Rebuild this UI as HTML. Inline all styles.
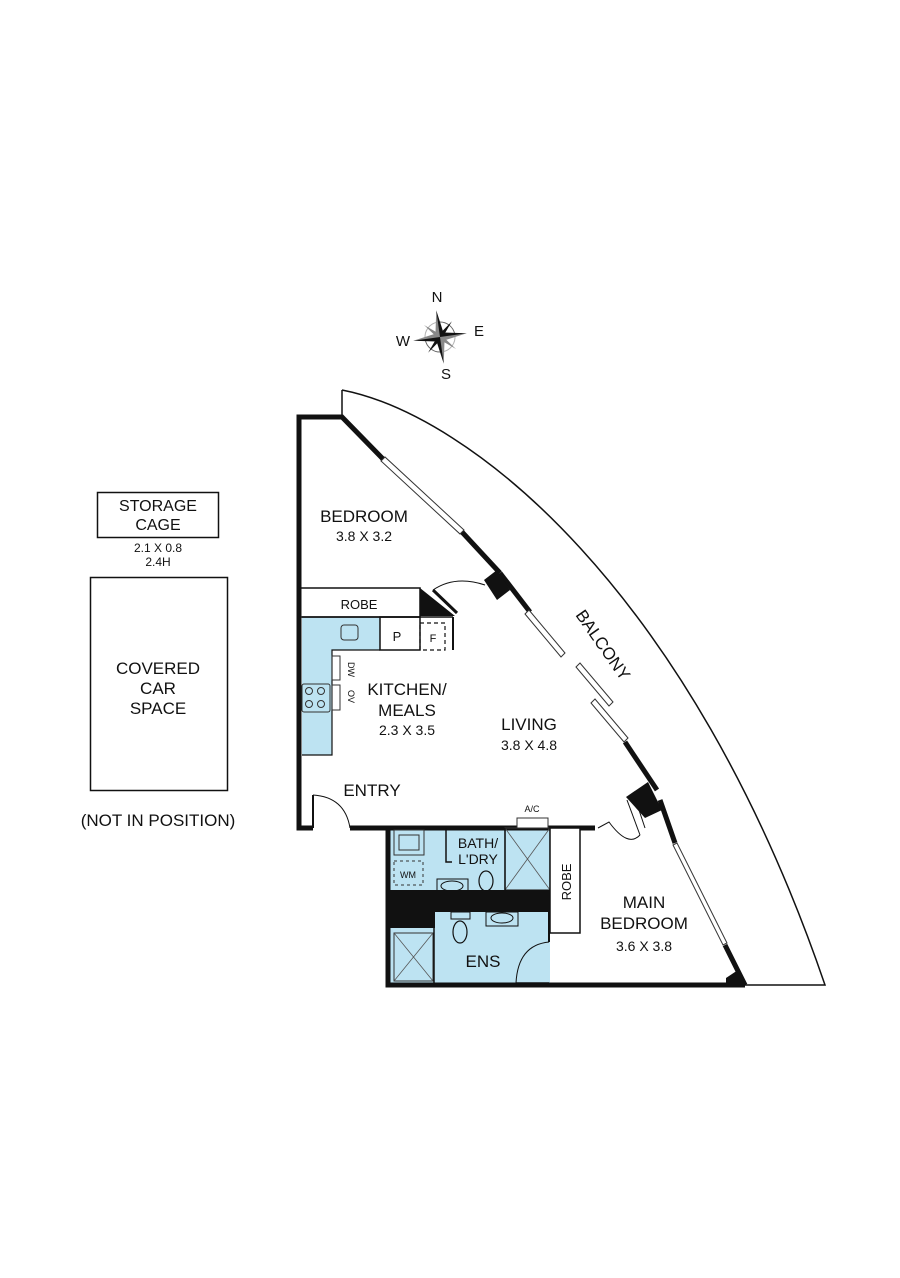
<!DOCTYPE html>
<html><head><meta charset="utf-8"><style>
html,body{margin:0;padding:0;background:#fff;}
svg text{font-family:"Liberation Sans",sans-serif;fill:#111;}
</style></head><body>
<svg width="900" height="1273" viewBox="0 0 900 1273" xmlns="http://www.w3.org/2000/svg">
<!-- compass -->
<g transform="translate(440,337) rotate(-8)">
<circle r="15" fill="none" stroke="#666" stroke-width="1"/>
<polygon points="0,-27 4,-4 27,0 4,4 0,27 -4,4 -27,0 -4,-4" fill="#111"/>
<polygon points="14,-14 3,0 14,14 0,3 -14,14 -3,0 -14,-14 0,-3" fill="#111"/>
<polygon points="0,-27 0,0 27,0 0,27 0,0 -27,0" fill="#fff" opacity="0.5"/>
</g>
<text x="437" y="302" font-size="15" text-anchor="middle">N</text>
<text x="479" y="336" font-size="15" text-anchor="middle">E</text>
<text x="403" y="346" font-size="15" text-anchor="middle">W</text>
<text x="446" y="379" font-size="15" text-anchor="middle">S</text>

<!-- storage / car -->
<rect x="97.5" y="492.5" width="121" height="45" fill="none" stroke="#111" stroke-width="1.5"/>
<text x="158" y="511" font-size="16" text-anchor="middle">STORAGE</text>
<text x="158" y="530" font-size="16" text-anchor="middle">CAGE</text>
<text x="158" y="552" font-size="12" text-anchor="middle">2.1 X 0.8</text>
<text x="158" y="566" font-size="12" text-anchor="middle">2.4H</text>
<rect x="90.5" y="577.5" width="137" height="213" fill="none" stroke="#111" stroke-width="1.5"/>
<text x="158" y="674" font-size="17" text-anchor="middle">COVERED</text>
<text x="158" y="694" font-size="17" text-anchor="middle">CAR</text>
<text x="158" y="714" font-size="17" text-anchor="middle">SPACE</text>
<text x="158" y="826" font-size="17" text-anchor="middle">(NOT IN POSITION)</text>

<!-- balcony -->
<path d="M342,390 C470,415 690,590 825,985 L745,985" fill="none" stroke="#111" stroke-width="1.5"/>
<line x1="342" y1="390" x2="342" y2="419" stroke="#111" stroke-width="1.5"/>
<text x="0" y="0" font-size="17" transform="translate(575,615) rotate(55)">BALCONY</text>

<!-- wet areas blue -->
<path d="M302,617 L380,617 L380,650 L332,650 L332,755 L302,755 Z" fill="#bde3f2"/>
<rect x="388" y="828" width="162" height="157" fill="#bde3f2"/>

<!-- outer walls -->
<g fill="none" stroke="#111" stroke-width="5">
<polyline points="313,828 299,828 299,417 342,417 383,459"/>
<line x1="462" y1="532" x2="500" y2="573"/>
<line x1="500" y1="573" x2="530" y2="612"/>
<line x1="625" y1="742" x2="657" y2="790"/>
<line x1="660" y1="800" x2="675" y2="843"/>
<line x1="725" y1="945" x2="745" y2="985"/>
<polyline points="350,828 388,828"/>
<polyline points="388,828 388,985 745,985"/>
<polyline points="388,828 550,828"/>
<polyline points="550,828 595,828"/>
</g>
<!-- windows -->
<g fill="#fff" stroke="#333" stroke-width="1">
<polygon points="381,461 385,457 464,530 460,534"/>
<polygon points="525,614 529,610 565,653 561,657"/>
<polygon points="576,667 580,663 613,702 609,706"/>
<polygon points="591,703 595,699 628,738 624,742"/>
<polygon points="673,845 677,843 727,943 723,945"/>
</g>
<!-- pillars -->
<polygon points="484,580 497,570 510,590 497,600" fill="#111"/>
<polygon points="626,797 648,782 662,810 645,818" fill="#111"/>
<polygon points="726,978 738,970 746,985 726,985" fill="#111"/>

<!-- robe top -->
<rect x="300" y="588" width="120" height="29" fill="none" stroke="#111" stroke-width="1.5"/>
<polygon points="420,588 455,616 420,616" fill="#111"/>
<text x="359" y="609" font-size="13" text-anchor="middle">ROBE</text>
<path d="M433,590 Q455,575 485,585" fill="none" stroke="#111" stroke-width="1"/>
<line x1="433" y1="590" x2="457" y2="613" stroke="#111" stroke-width="3"/>
<!-- P / F -->
<rect x="380" y="617" width="40" height="33" fill="none" stroke="#111" stroke-width="1.5"/>
<text x="397" y="641" font-size="13" text-anchor="middle">P</text>
<rect x="420" y="623" width="25" height="27" fill="none" stroke="#111" stroke-width="1.2" stroke-dasharray="4,3"/>
<text x="433" y="642" font-size="11" text-anchor="middle">F</text>
<line x1="453" y1="617" x2="453" y2="650" stroke="#111" stroke-width="2"/>
<line x1="302" y1="617" x2="453" y2="617" stroke="#111" stroke-width="1.5"/>
<path d="M380,650 L332,650 L332,755 L302,755" fill="none" stroke="#111" stroke-width="1.2"/>
<rect x="341" y="625" width="17" height="15" rx="3" fill="none" stroke="#333" stroke-width="1"/>
<rect x="332" y="656" width="8" height="24" fill="none" stroke="#333" stroke-width="1"/>
<rect x="332" y="685" width="8" height="25" fill="none" stroke="#333" stroke-width="1"/>
<text font-size="9" transform="translate(348,662) rotate(90)">DW</text>
<text font-size="9" transform="translate(348,690) rotate(90)">OV</text>
<rect x="302" y="684" width="28" height="28" rx="2" fill="none" stroke="#333" stroke-width="1"/>
<g fill="none" stroke="#333" stroke-width="1"><circle cx="309" cy="691" r="3.5"/><circle cx="321" cy="691" r="3.5"/><circle cx="309" cy="704" r="3.5"/><circle cx="321" cy="704" r="3.5"/></g>

<!-- labels -->
<text x="364" y="522" font-size="17" text-anchor="middle">BEDROOM</text>
<text x="364" y="541" font-size="14" text-anchor="middle">3.8 X 3.2</text>
<text x="407" y="695" font-size="17" text-anchor="middle">KITCHEN/</text>
<text x="407" y="716" font-size="17" text-anchor="middle">MEALS</text>
<text x="407" y="735" font-size="14" text-anchor="middle">2.3 X 3.5</text>
<text x="529" y="730" font-size="17" text-anchor="middle">LIVING</text>
<text x="529" y="750" font-size="14" text-anchor="middle">3.8 X 4.8</text>
<text x="372" y="796" font-size="17" text-anchor="middle">ENTRY</text>

<!-- entry door -->
<path d="M313,795 Q345,797 350,828" fill="none" stroke="#111" stroke-width="1"/>
<line x1="313" y1="795" x2="313" y2="828" stroke="#111" stroke-width="2"/>

<!-- bath block -->
<rect x="394" y="830" width="30" height="25" fill="none" stroke="#333" stroke-width="1"/>
<rect x="399" y="835" width="20" height="15" fill="none" stroke="#333" stroke-width="1"/>
<rect x="394" y="861" width="29" height="24" fill="none" stroke="#333" stroke-width="1" stroke-dasharray="3,3"/>
<text x="408" y="878" font-size="9" text-anchor="middle">WM</text>
<polyline points="446,828 446,862 452,862" fill="none" stroke="#111" stroke-width="1.5"/>
<text x="478" y="848" font-size="14" text-anchor="middle">BATH/</text>
<text x="478" y="864" font-size="14" text-anchor="middle">L'DRY</text>
<rect x="437" y="879" width="31" height="13" fill="none" stroke="#111" stroke-width="1"/>
<ellipse cx="452" cy="886" rx="11" ry="5" fill="none" stroke="#111" stroke-width="1"/>
<ellipse cx="486" cy="881" rx="7" ry="10" fill="none" stroke="#111" stroke-width="1.2"/>
<rect x="476" y="892" width="19" height="6" fill="none" stroke="#111" stroke-width="1"/>
<rect x="505" y="828" width="45" height="62" fill="none" stroke="#333" stroke-width="1.2"/>
<line x1="505" y1="828" x2="550" y2="890" stroke="#555" stroke-width="0.8"/>
<line x1="550" y1="828" x2="505" y2="890" stroke="#555" stroke-width="0.8"/>
<rect x="517" y="818" width="31" height="10" fill="#fff" stroke="#333" stroke-width="1"/>
<text x="532" y="812" font-size="9" text-anchor="middle">A/C</text>
<line x1="505" y1="828" x2="505" y2="890" stroke="#111" stroke-width="1.5"/>
<rect x="388" y="890" width="162" height="22" fill="#111"/>
<rect x="388" y="890" width="47" height="38" fill="#111"/>
<rect x="394" y="933" width="39" height="48" fill="none" stroke="#333" stroke-width="1"/>
<line x1="394" y1="933" x2="433" y2="981" stroke="#555" stroke-width="0.8"/>
<line x1="433" y1="933" x2="394" y2="981" stroke="#555" stroke-width="0.8"/>
<line x1="434" y1="928" x2="434" y2="985" stroke="#111" stroke-width="1.5"/>
<rect x="451" y="912" width="19" height="7" fill="none" stroke="#111" stroke-width="1"/>
<ellipse cx="460" cy="932" rx="7" ry="11" fill="none" stroke="#111" stroke-width="1.2"/>
<rect x="486" y="912" width="32" height="14" fill="none" stroke="#111" stroke-width="1"/>
<ellipse cx="502" cy="918" rx="11" ry="5" fill="none" stroke="#111" stroke-width="1"/>
<text x="483" y="967" font-size="17" text-anchor="middle">ENS</text>
<line x1="549" y1="912" x2="549" y2="942" stroke="#111" stroke-width="2"/>
<path d="M549,942 Q518,945 516,983" fill="none" stroke="#111" stroke-width="1"/>
<line x1="516" y1="983" x2="549" y2="983" stroke="#111" stroke-width="1.5"/>

<!-- robe main -->
<rect x="550" y="828" width="30" height="105" fill="#fff" stroke="#111" stroke-width="1.5"/>
<text font-size="13" text-anchor="middle" transform="translate(571,882) rotate(-90)">ROBE</text>
<!-- main door -->
<path d="M598,828 L609,822 Q628,848 640,835" fill="none" stroke="#111" stroke-width="1"/>
<line x1="627" y1="800" x2="640" y2="835" stroke="#111" stroke-width="1"/>
<line x1="635" y1="798" x2="645" y2="828" stroke="#111" stroke-width="1"/>
<text x="644" y="908" font-size="17" text-anchor="middle">MAIN</text>
<text x="644" y="929" font-size="17" text-anchor="middle">BEDROOM</text>
<text x="644" y="951" font-size="14" text-anchor="middle">3.6 X 3.8</text>
</svg>
</body></html>
